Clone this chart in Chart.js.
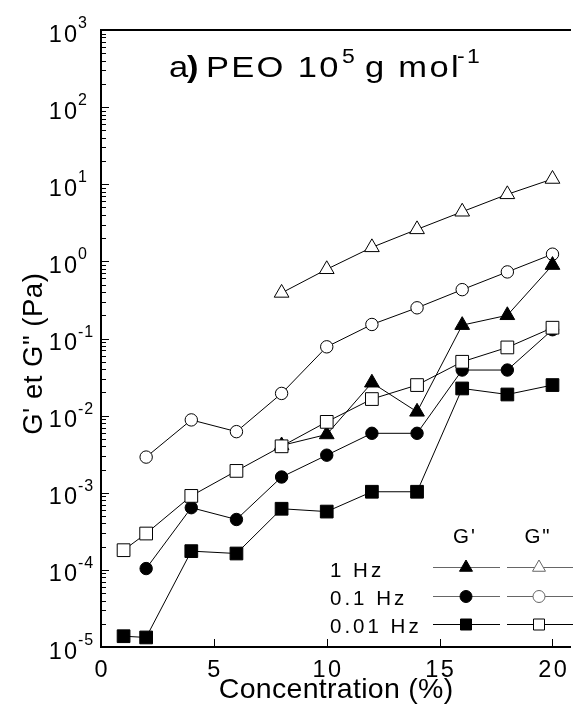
<!DOCTYPE html>
<html>
<head>
<meta charset="utf-8">
<title>a) PEO 10^5 g mol-1</title>
<script src="https://cdn.jsdelivr.net/npm/chart.js@4.4.1/dist/chart.umd.min.js"></script>
<style>
  html, body { margin: 0; padding: 0; background: #fff; }
  #wrap { width: 581px; height: 713px; }
</style>
</head>
<body>
<div id="wrap"><canvas id="chart" width="581" height="713"></canvas></div>
<script>
// Concentration (%) - x values
const concentration = [1, 2, 4, 6, 8, 10, 12, 14, 16, 18, 20];

// G' (filled symbols) and G" (open symbols), Pa. null = no point
const gPrime1Hz    = [null, null, null, null, 0.0041, 0.0057, 0.0267, 0.0112, 0.149, 0.20, 0.895];
const gSecond1Hz   = [null, null, null, null, 0.39, 0.79, 1.52, 2.6, 4.4, 7.4, 11.7];
const gPrime01Hz   = [null, 0.000104, 0.00064, 0.00045, 0.0016, 0.00307, 0.0059, 0.0059, 0.039, 0.039, 0.13];
const gSecond01Hz  = [null, 0.0029, 0.0088, 0.0062, 0.0194, 0.078, 0.152, 0.25, 0.43, 0.73, 1.24];
const gPrime001Hz  = [1.38e-5, 1.33e-5, 1.75e-4, 1.63e-4, 6.2e-4, 5.7e-4, 1.03e-3, 1.03e-3, 0.0225, 0.0188, 0.0249];
const gSecond001Hz = [1.8e-4, 2.96e-4, 9.1e-4, 1.92e-3, 4.0e-3, 8.3e-3, 0.0164, 0.0249, 0.0499, 0.0766, 0.138];

// Axis ticks
const xTickValues = [0, 5, 10, 15, 20];
const yExponents = [-5, -4, -3, -2, -1, 0, 1, 2, 3];

// Legend text
const legendRows = ['1 Hz', '0.1 Hz', '0.01 Hz'];
const legendHeads = ["G'", 'G"'];

const FONT = '"Liberation Sans", Arial, sans-serif';

// Turn one of the series arrays into {x, y} points
function toPoints(values) {
  return concentration
    .map((c, i) => ({ x: c, y: values[i] }))
    .filter((p) => p.y !== null);
}

function series(label, values, style, radius, filled) {
  return {
    label: label,
    data: toPoints(values),
    borderColor: '#000',
    borderWidth: 1,
    pointStyle: style,
    pointRadius: radius,
    pointBorderWidth: 1,
    pointBorderColor: '#000',
    pointBackgroundColor: filled ? '#000' : '#fff',
    tension: 0,
    clip: false,
  };
}

// Draw a piece of text with optional letter spacing / horizontal stretch
function drawText(ctx, str, x, y, size, opts = {}) {
  const spacing = opts.spacing || 0;
  const sx = opts.sx || 1;
  ctx.save();
  ctx.font = (opts.bold ? 'bold ' : '') + size + 'px ' + FONT;
  ctx.fillStyle = '#000';
  ctx.textAlign = opts.align || 'left';
  ctx.textBaseline = 'alphabetic';
  ctx.translate(x, y);
  if (opts.rotate) ctx.rotate(opts.rotate);
  ctx.scale(sx, 1);
  if ('letterSpacing' in ctx) ctx.letterSpacing = spacing + 'px';
  let dx = 0;
  if (opts.align === 'center') dx = spacing / 2;
  if (opts.align === 'right') dx = spacing;
  ctx.fillText(str, dx, 0);
  ctx.restore();
}

// Small marker for the legend, same shapes as the chart points
function drawMarker(ctx, style, x, y, r, filled, color) {
  ctx.save();
  ctx.beginPath();
  if (style === 'triangle') {
    let rad = 0;
    ctx.moveTo(x + Math.sin(rad) * r, y - Math.cos(rad) * r);
    rad += Math.PI * 2 / 3;
    ctx.lineTo(x + Math.sin(rad) * r, y - Math.cos(rad) * r);
    rad += Math.PI * 2 / 3;
    ctx.lineTo(x + Math.sin(rad) * r, y - Math.cos(rad) * r);
    ctx.closePath();
  } else if (style === 'circle') {
    ctx.arc(x, y, r, 0, Math.PI * 2);
  } else {
    ctx.rect(x - r, y - r, 2 * r, 2 * r);
  }
  ctx.fillStyle = filled ? '#000' : '#fff';
  ctx.fill();
  ctx.lineWidth = 1;
  ctx.strokeStyle = color;
  ctx.stroke();
  ctx.restore();
}

// Frame, inward ticks, tick labels, titles and the legend
const axesPlugin = {
  id: 'axesPlugin',
  beforeDatasetsDraw(chart) {
    const { ctx, chartArea: a, scales } = chart;
    const xs = scales.x;
    const ys = scales.y;
    ctx.save();
    ctx.strokeStyle = '#000';
    ctx.lineWidth = 2;
    ctx.beginPath();
    ctx.moveTo(a.left - 1, a.top);
    ctx.lineTo(a.right, a.top);
    ctx.moveTo(a.left, a.top);
    ctx.lineTo(a.left, a.bottom);
    ctx.moveTo(a.left - 1, a.bottom);
    ctx.lineTo(a.right, a.bottom);
    ctx.stroke();

    // y ticks (major at decades, minor 2..9)
    ctx.lineWidth = 1;
    ctx.beginPath();
    yExponents.forEach((e) => {
      for (let m = 1; m <= 9; m++) {
        const v = m * Math.pow(10, e);
        if (v > ys.max * 1.0001) break;
        const py = Math.round(ys.getPixelForValue(v)) + 0.5;
        const len = m === 1 ? 8 : 5;
        ctx.moveTo(a.left, py);
        ctx.lineTo(a.left + len, py);
      }
    });
    // x ticks pointing up
    xTickValues.forEach((v) => {
      if (v === 0) return;
      const px = Math.round(xs.getPixelForValue(v)) + 0.5;
      ctx.moveTo(px, a.bottom);
      ctx.lineTo(px, a.bottom - 8);
    });
    ctx.stroke();
    ctx.restore();
  },
  afterDraw(chart) {
    const { ctx, chartArea: a, scales } = chart;
    const xs = scales.x;
    const ys = scales.y;

    // y tick labels: 10 with exponent
    yExponents.forEach((e) => {
      const py = ys.getPixelForValue(Math.pow(10, e));
      drawText(ctx, '10', 77, py + 11.5, 23.5, { align: 'right', spacing: 2 });
      drawText(ctx, String(e), 78, py - 2, 16, { spacing: 1 });
    });

    // x tick labels
    xTickValues.forEach((v) => {
      const px = xs.getPixelForValue(v);
      drawText(ctx, String(v), px, 677, 23.5, { align: 'center', spacing: 2.5 });
    });

    // axis titles
    drawText(ctx, 'Concentration (%)', (a.left + a.right) / 2, 698, 28.5, { align: 'center', spacing: 0.3 });
    drawText(ctx, 'G\' et G" (Pa)', 42, 354, 27.5, { align: 'center', rotate: -Math.PI / 2, spacing: 0.5 });

    // panel title
    const t = { sx: 1.15, spacing: 2 };
    drawText(ctx, 'a', 169, 77, 30, t);
    drawText(ctx, ')', 187, 77, 30, { sx: 1.15, bold: true });
    drawText(ctx, 'PEO 10', 206, 77, 30, t);
    drawText(ctx, '5', 342, 63, 20, t);
    drawText(ctx, 'g mol', 365, 77, 30, t);
    drawText(ctx, '-1', 457, 63, 20, t);

    // legend
    drawText(ctx, legendHeads[0], 464, 543, 20.5, { align: 'center', spacing: 2 });
    drawText(ctx, legendHeads[1], 537, 543, 20.5, { align: 'center', spacing: 2 });
    const rowY = [567, 596, 624];
    const baseY = [577, 605, 633];
    const styles = [
      ['triangle', 7.5],
      ['circle', 6],
      ['rect', 5.5],
    ];
    legendRows.forEach((label, i) => {
      drawText(ctx, label, 330, baseY[i], 20.5, { spacing: 3 });
      const color = i < 2 ? '#666' : '#000';
      const ly = rowY[i] + 0.5;
      ctx.save();
      ctx.strokeStyle = color;
      ctx.lineWidth = 1;
      ctx.beginPath();
      ctx.moveTo(433, ly);
      ctx.lineTo(500, ly);
      ctx.moveTo(507, ly);
      ctx.lineTo(573, ly);
      ctx.stroke();
      ctx.restore();
      drawMarker(ctx, styles[i][0], 466, ly, styles[i][1], true, '#000');
      drawMarker(ctx, styles[i][0], 539, ly, styles[i][1], false, color);
    });
  },
};

// First dataset is drawn on top
const datasets = [
  series('G" 0.01 Hz', gSecond001Hz, 'rect', 9, false),
  series("G' 1 Hz", gPrime1Hz, 'triangle', 8.5, true),
  series('G" 0.1 Hz', gSecond01Hz, 'circle', 6.2, false),
  series("G' 0.1 Hz", gPrime01Hz, 'circle', 6.2, true),
  series("G' 0.01 Hz", gPrime001Hz, 'rect', 9, true),
  series('G" 1 Hz', gSecond1Hz, 'triangle', 8.5, false),
];

new Chart(document.getElementById('chart').getContext('2d'), {
  type: 'line',
  data: { datasets: datasets },
  options: {
    responsive: false,
    animation: false,
    events: [],
    layout: { padding: { left: 101, top: 30, right: 0, bottom: 66 } },
    plugins: { legend: { display: false }, tooltip: { enabled: false } },
    scales: {
      x: { type: 'linear', min: 0, max: 20.82, display: false },
      y: { type: 'logarithmic', min: 1e-5, max: 1e3, display: false },
    },
  },
  plugins: [axesPlugin],
});
</script>
</body>
</html>
